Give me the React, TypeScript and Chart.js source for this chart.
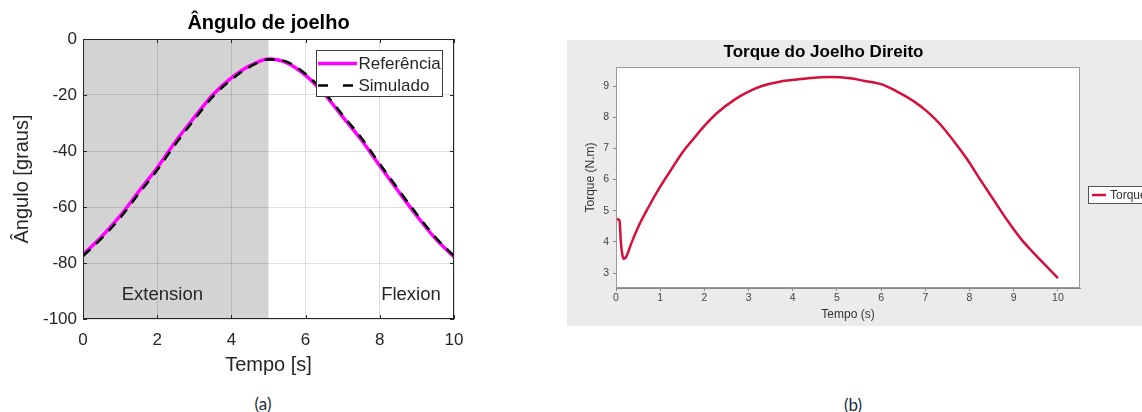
import React, { useEffect, useRef } from 'react';
import { Chart, registerables } from 'chart.js';

Chart.register(...registerables);

// ---------- Panel (a): Ângulo de joelho ----------
const timeA = [0, 0.5, 1, 1.5, 2, 2.5, 3, 3.5, 4, 4.5, 5, 5.5, 6, 6.5, 7, 7.5, 8, 8.5, 9, 9.5, 10];
const referencia = [-77, -70.6, -63.2, -54.5, -46, -36.5, -28, -19.9, -13.9, -9.5, -7.1, -8.5, -13, -19.6, -27.8, -36, -45.3, -54.4, -63.2, -71.3, -77.8];
const simulado = [-77.5, -71.2, -63.9, -55.3, -46.8, -37.4, -28.8, -20.6, -14.5, -9.9, -7.3, -8.2, -12.5, -19, -27.2, -35.3, -44.6, -53.7, -62.6, -70.8, -77.5];
const extensionRange = [0, 5];
const phaseLabels = ['Extension', 'Flexion'];
const phaseLabelX = [2.14, 8.84];
const phaseLabelY = [-93.2, -93.2];
const angleXTicks = [0, 2, 4, 6, 8, 10];
const angleYTicks = [-100, -80, -60, -40, -20, 0];

// ---------- Panel (b): Torque do Joelho Direito ----------
const torqueTime = [0, 0.04, 0.08, 0.11, 0.14, 0.17, 0.22, 0.36, 0.5, 0.75, 1.0, 1.25, 1.5, 1.75, 2.0, 2.3, 2.7, 3.0, 3.3, 3.7, 4.1, 4.4, 4.85, 5.3, 5.6, 6.0, 6.35, 6.75, 7.05, 7.35, 7.65, 7.95, 8.25, 8.55, 8.85, 9.15, 9.4, 9.7, 10.0];
const torqueValues = [4.76, 4.72, 4.68, 4.0, 3.62, 3.46, 3.5, 4.0, 4.47, 5.15, 5.77, 6.32, 6.86, 7.3, 7.72, 8.15, 8.58, 8.82, 9.0, 9.14, 9.21, 9.26, 9.29, 9.25, 9.17, 9.06, 8.83, 8.5, 8.17, 7.75, 7.22, 6.64, 5.98, 5.34, 4.7, 4.12, 3.72, 3.28, 2.84];

const SANS = '"Liberation Sans", Arial, Helvetica, sans-serif';
const DARK = '#262626';

const panelAPlugin = {
  id: 'panelAExtras',
  beforeDraw(chart: any) {
    const { ctx, chartArea: ca, scales } = chart;
    const x = scales.x;
    ctx.save();
    const x0 = x.getPixelForValue(extensionRange[0]);
    const x1 = x.getPixelForValue(extensionRange[1]);
    ctx.fillStyle = '#d3d3d3';
    ctx.fillRect(x0, ca.top, x1 - x0, ca.bottom - ca.top);
    ctx.restore();
  },
  afterDatasetsDraw(chart: any) {
    const { ctx, scales } = chart;
    ctx.save();
    ctx.font = `18.5px ${SANS}`;
    ctx.fillStyle = DARK;
    ctx.textAlign = 'center';
    ctx.textBaseline = 'alphabetic';
    phaseLabels.forEach((t, i) => {
      ctx.fillText(t, scales.x.getPixelForValue(phaseLabelX[i]), scales.y.getPixelForValue(phaseLabelY[i]));
    });
    ctx.restore();
  },
  afterDraw(chart: any) {
    const { ctx, chartArea: ca, scales } = chart;
    ctx.save();
    // box
    ctx.strokeStyle = DARK;
    ctx.lineWidth = 1;
    ctx.strokeRect(Math.round(ca.left) + 0.5, Math.round(ca.top) + 0.5, Math.round(ca.right - ca.left) - 1, Math.round(ca.bottom - ca.top) - 1);
    // inward ticks
    ctx.beginPath();
    angleXTicks.forEach((v) => {
      const px = Math.round(scales.x.getPixelForValue(v)) + 0.5;
      ctx.moveTo(px, ca.bottom); ctx.lineTo(px, ca.bottom - 4);
      ctx.moveTo(px, ca.top); ctx.lineTo(px, ca.top + 4);
    });
    angleYTicks.forEach((v) => {
      const py = Math.round(scales.y.getPixelForValue(v)) + 0.5;
      ctx.moveTo(ca.left, py); ctx.lineTo(ca.left + 4, py);
      ctx.moveTo(ca.right, py); ctx.lineTo(ca.right - 4, py);
    });
    ctx.stroke();
    // legend
    const bx = 316.5, by = 50.5, bw = 126, bh = 46;
    ctx.fillStyle = '#ffffff';
    ctx.fillRect(bx, by, bw, bh);
    ctx.strokeStyle = '#3a3a3a';
    ctx.strokeRect(bx, by, bw, bh);
    ctx.lineWidth = 3.5;
    ctx.strokeStyle = '#ff00ff';
    ctx.beginPath();
    ctx.moveTo(318, 63.5); ctx.lineTo(357, 63.5);
    ctx.stroke();
    ctx.lineWidth = 2.5;
    ctx.strokeStyle = '#000000';
    ctx.setLineDash([10, 15]);
    ctx.beginPath();
    ctx.moveTo(318, 85.5); ctx.lineTo(356, 85.5);
    ctx.stroke();
    ctx.setLineDash([]);
    ctx.font = `17px ${SANS}`;
    ctx.fillStyle = DARK;
    ctx.textAlign = 'left';
    ctx.textBaseline = 'middle';
    ctx.fillText(chart.data.datasets[0].label, 358.5, 64);
    ctx.fillText(chart.data.datasets[1].label, 358.5, 86);
    ctx.restore();
  },
};

const panelBPlugin = {
  id: 'panelBExtras',
  beforeDraw(chart: any) {
    const { ctx, chartArea: ca } = chart;
    ctx.save();
    ctx.fillStyle = '#ffffff';
    ctx.fillRect(ca.left, ca.top, ca.right - ca.left, ca.bottom - ca.top);
    ctx.restore();
  },
  afterDraw(chart: any) {
    const { ctx, chartArea: ca } = chart;
    ctx.save();
    ctx.strokeStyle = '#9a9a9a';
    ctx.lineWidth = 1;
    ctx.strokeRect(Math.round(ca.left) + 0.5, Math.round(ca.top) + 0.5, Math.round(ca.right - ca.left) - 1, Math.round(ca.bottom - ca.top) - 1);
    // legend
    ctx.fillStyle = '#ffffff';
    ctx.fillRect(521.5, 146.5, 120, 17);
    ctx.strokeStyle = '#555555';
    ctx.strokeRect(521.5, 146.5, 120, 17);
    ctx.strokeStyle = '#d40f3c';
    ctx.lineWidth = 2.5;
    ctx.beginPath();
    ctx.moveTo(525, 155); ctx.lineTo(539, 155);
    ctx.stroke();
    ctx.font = `12px ${SANS}`;
    ctx.fillStyle = '#333333';
    ctx.textAlign = 'left';
    ctx.textBaseline = 'middle';
    ctx.fillText(chart.data.datasets[0].label, 543, 155.5);
    ctx.restore();
  },
};

function AngleChart() {
  const ref = useRef<HTMLCanvasElement>(null);
  useEffect(() => {
    if (!ref.current) return;
    const tickFont = { family: SANS, size: 17 };
    const chart = new Chart(ref.current, {
      type: 'line',
      data: {
        datasets: [
          {
            label: 'Referência',
            data: timeA.map((t, i) => ({ x: t, y: referencia[i] })),
            borderColor: '#ff00ff',
            borderWidth: 3.5,
            pointRadius: 0,
            cubicInterpolationMode: 'monotone',
            order: 1,
          },
          {
            label: 'Simulado',
            data: timeA.map((t, i) => ({ x: t, y: simulado[i] })),
            borderColor: '#000000',
            borderWidth: 2.5,
            borderDash: [10, 8],
            pointRadius: 0,
            cubicInterpolationMode: 'monotone',
            order: 0,
          },
        ],
      },
      options: {
        responsive: false,
        animation: false,
        layout: { padding: { left: 0, right: 26, top: 0, bottom: 0 } },
        plugins: {
          legend: { display: false },
          tooltip: { enabled: false },
          title: {
            display: true,
            text: 'Ângulo de joelho',
            fullSize: false,
            color: '#000000',
            font: { family: SANS, size: 20, weight: 'bold' },
            padding: { top: 11, bottom: 4 },
          },
        },
        scales: {
          x: {
            type: 'linear',
            min: 0,
            max: 10,
            ticks: { stepSize: 2, font: tickFont, color: DARK, padding: 11, maxRotation: 0 },
            grid: { color: 'rgba(38,38,38,0.15)', drawTicks: false },
            border: { display: false },
            title: { display: true, text: 'Tempo [s]', color: DARK, font: { family: SANS, size: 20 }, padding: { top: 0, bottom: 8 } },
            afterFit: (s: any) => { s.height = 66; },
          },
          y: {
            type: 'linear',
            min: -100,
            max: 0,
            ticks: { stepSize: 20, font: tickFont, color: DARK, padding: 6 },
            grid: { color: 'rgba(38,38,38,0.15)', drawTicks: false },
            border: { display: false },
            title: { display: true, text: 'Ângulo [graus]', color: DARK, font: { family: SANS, size: 20 }, padding: { top: 10.5, bottom: 0 } },
            afterFit: (s: any) => { s.width = 83; },
          },
        },
      },
      plugins: [panelAPlugin],
    } as any);
    return () => chart.destroy();
  }, []);
  return <canvas ref={ref} width={480} height={385} style={{ position: 'absolute', left: 0, top: 0 }} />;
}

function TorqueChart() {
  const ref = useRef<HTMLCanvasElement>(null);
  useEffect(() => {
    if (!ref.current) return;
    const tickFont = { family: SANS, size: 10.5 };
    const chart = new Chart(ref.current, {
      type: 'line',
      data: {
        datasets: [
          {
            label: 'Torque',
            data: torqueTime.map((t, i) => ({ x: t, y: torqueValues[i] })),
            borderColor: '#d40f3c',
            borderWidth: 2.5,
            pointRadius: 0,
            cubicInterpolationMode: 'monotone',
          },
        ],
      },
      options: {
        responsive: false,
        animation: false,
        layout: { padding: { left: 0, right: 71, top: 0, bottom: 0 } },
        plugins: {
          legend: { display: false },
          tooltip: { enabled: false },
          title: {
            display: true,
            text: 'Torque do Joelho Direito',
            color: '#000000',
            font: { family: SANS, size: 17, weight: 'bold' },
            padding: { top: 2, bottom: 4.6 },
          },
        },
        scales: {
          x: {
            type: 'linear',
            min: 0,
            max: 10.5,
            ticks: { stepSize: 1, includeBounds: false, font: tickFont, color: '#444444', padding: 1, maxRotation: 0, autoSkip: false },
            grid: { display: true, drawOnChartArea: false, drawTicks: true, tickLength: 3, tickColor: '#888888' },
            border: { display: true, color: '#888888' },
            title: { display: true, text: 'Tempo (s)', color: '#333333', font: { family: SANS, size: 12 }, padding: { top: 0, bottom: 4.5 } },
            afterFit: (s: any) => { s.height = 38; },
          },
          y: {
            type: 'linear',
            min: 2.52,
            max: 9.61,
            ticks: { stepSize: 1, includeBounds: false, font: tickFont, color: '#444444', padding: 4 },
            grid: { display: true, drawOnChartArea: false, drawTicks: true, tickLength: 3, tickColor: '#888888' },
            border: { display: true, color: '#888888' },
            title: { display: true, text: 'Torque (N.m)', color: '#333333', font: { family: SANS, size: 12 }, padding: { top: 16.3, bottom: 0 } },
            afterFit: (s: any) => { s.width = 49; },
          },
        },
      },
      plugins: [panelBPlugin],
    } as any);
    return () => chart.destroy();
  }, []);
  return <canvas ref={ref} width={584} height={286} style={{ position: 'absolute', left: 0, top: 0 }} />;
}

export default function App() {
  const caption: React.CSSProperties = {
    position: 'absolute',
    fontFamily: 'Lato, "Open Sans", sans-serif',
    fontSize: 17,
    color: '#222a3a',
    transform: 'translate(-50%, -50%)',
    lineHeight: 1,
  };
  return (
    <div style={{ position: 'fixed', left: 0, top: 0, width: 1142, height: 412, background: '#ffffff', overflow: 'hidden' }}>
      <AngleChart />
      <div style={{ position: 'absolute', left: 567, top: 40, width: 575, height: 286, overflow: 'hidden', background: '#ebebeb' }}>
        <TorqueChart />
      </div>
      <div style={{ ...caption, left: 263, top: 403 }}>(a)</div>
      <div style={{ ...caption, left: 853, top: 404 }}>(b)</div>
    </div>
  );
}
